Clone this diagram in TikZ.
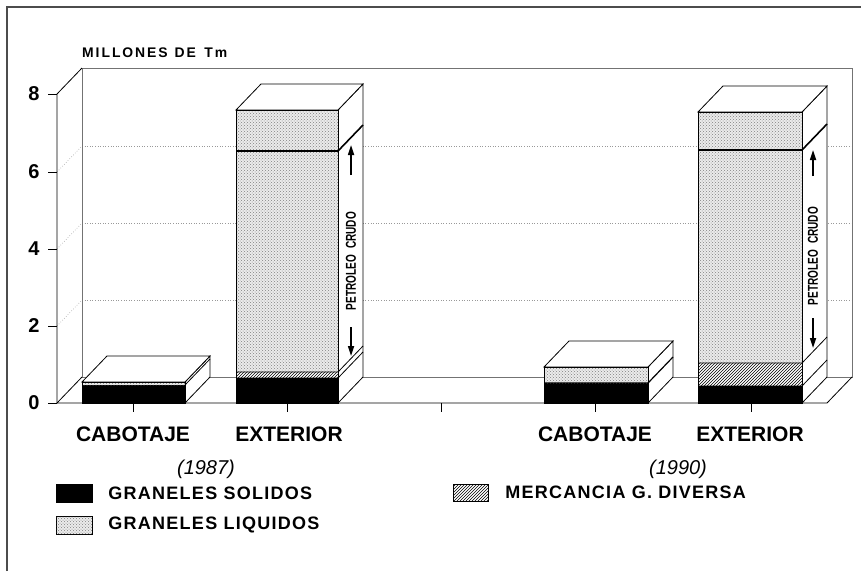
\documentclass[tikz,border=0pt]{standalone}
\usepackage{fontspec}
\setmainfont{Liberation Sans}
\newfontfamily\rotulo[LetterSpace=7]{Liberation Sans Bold}
\newfontfamily\titulo[LetterSpace=14]{Liberation Sans Bold}
\usetikzlibrary{arrows.meta, patterns, positioning}

% caja 3D: x izquierda, x derecha, y techo
\newcommand{\caja}[3]{%
  \draw[face] (#2,403) -- (#2+25,377) -- (#2+25,#3-26) -- (#2,#3) -- cycle;
  \draw[face] (#1,#3) -- (#1+25,#3-26) -- (#2+25,#3-26) -- (#2,#3) -- cycle;
}
\newcommand{\crudotexto}{\resizebox{98pt}{10pt}{\bfseries PETROLEO\hspace{0.6em}CRUDO}}

\begin{document}
\begin{tikzpicture}[x=1pt, y=-1pt,
    wall/.style={black!55, line width=0.6pt},
    grid/.style={black!40, dotted, line width=0.6pt},
    edge/.style={black, line width=0.8pt},
    face/.style={edge, fill=white},
    solido/.style={fill=black},
    liquido/.style={fill=black!8, postaction={pattern=crosshatch dots, pattern color=black!50}},
    diversa/.style={fill=white, postaction={pattern=north east lines}},
    crudo/.style={-{Triangle[length=10pt, width=6pt]}, line width=1.6pt},
    crudotxt/.style={rotate=90, inner sep=0pt},
    ytick/.style={font=\fontsize{20}{20}\selectfont\bfseries, anchor=east, inner sep=0pt},
    categ/.style={font=\fontsize{21}{21}\selectfont\bfseries, anchor=base, inner sep=0pt},
    anio/.style={font=\fontsize{20}{20}\selectfont\itshape, anchor=base, inner sep=0pt},
    leyenda/.style={font=\fontsize{18}{18}\rotulo, inner sep=0pt},
    swatch/.style={draw=black, line width=0.5pt, minimum width=36pt, minimum height=18pt, inner sep=0pt}
  ]
  \useasboundingbox (0,0) rectangle (861,571);

  % marco
  \draw[black!70, line width=1.8pt] (7,571) -- (7,7) -- (861,7);

  % paredes y rejilla
  \foreach \g/\s in {300/326, 223/249, 146/172} {
    \draw[grid] (82,\g) -- (852,\g);
    \draw[grid] (57,\s) -- (82,\g);
  }
  \draw[wall] (82,377) -- (82,68) -- (852,68) -- (852,377) -- cycle;
  \draw[edge] (57,403) -- (57,94) -- (82,68);
  \draw[edge] (57,403) -- (82,377);
  \draw[edge] (57,403) -- (827,403) -- (852,377);

  \foreach \v/\t in {403/0, 326/2, 249/4, 172/6, 94/8}
    \draw[edge] (48,\v) -- (57,\v) node[ytick] (y\t) at (40,\v) {\t};
  \foreach \c in {133, 287, 441, 595, 751}
    \draw[edge] (\c,403) -- (\c,412);

  % cabotaje 1987
  \caja{82}{185}{382}
  \fill[solido] (82,403) rectangle (185,385);
  \fill[liquido] (82,385) rectangle (185,382);
  \draw[edge] (185,385) -- ++(25,-26);
  \draw[edge] (82,403) rectangle (185,382);

  % exterior 1987
  \caja{236}{338}{110}
  \fill[solido] (236,403) rectangle (338,378);
  \fill[diversa] (236,378) rectangle (338,372);
  \fill[liquido] (236,372) rectangle (338,110);
  \draw[edge] (236,378) -- (338,378) -- ++(25,-26) (236,372) -- (338,372) -- ++(25,-26);
  \draw[edge, line width=1.6pt] (236,151) -- (338,151) -- ++(25,-26);
  \draw[edge] (236,403) rectangle (338,110);
  \draw[crudo] (351,175) -- (351,145);
  \draw[crudo] (351,327) -- (351,356);
  \node[crudotxt] (crudo87) at (351,261) {\crudotexto};

  % cabotaje 1990
  \caja{544}{648}{367}
  \fill[solido] (544,403) rectangle (648,383);
  \fill[liquido] (544,383) rectangle (648,367);
  \draw[edge, line width=1.2pt] (544,383) -- (648,383) -- ++(25,-26);
  \draw[edge] (544,403) rectangle (648,367);

  % exterior 1990
  \caja{698}{802}{112}
  \fill[solido] (698,403) rectangle (802,386);
  \fill[diversa] (698,386) rectangle (802,363);
  \fill[liquido] (698,363) rectangle (802,112);
  \draw[edge] (698,386) -- (802,386) -- ++(25,-26) (698,363) -- (802,363) -- ++(25,-26);
  \draw[edge, line width=1.6pt] (698,150) -- (802,150) -- ++(25,-26);
  \draw[edge] (698,403) rectangle (802,112);
  \draw[crudo] (813,176) -- (813,150);
  \draw[crudo] (813,318) -- (813,348);
  \node[crudotxt] (crudo90) at (813,256) {\crudotexto};

  % rotulos
  \node[anchor=base west, inner sep=0pt] (unidad) at (82,57)
    {\resizebox{145pt}{!}{\titulo MILLONES\hspace{0.5em}DE\hspace{0.6em}Tm}};
  \node[categ] (cab87) at (133,441) {CABOTAJE};
  \node[categ] (ext87) at (289,441) {EXTERIOR};
  \node[anio] (a87) at (206,474) {(1987)};
  \node[categ] (cab90) at (595,441) {CABOTAJE};
  \node[categ] (ext90) at (750,441) {EXTERIOR};
  \node[anio] (a90) at (678,474) {(1990)};

  % leyenda
  \node[swatch, solido] (sw1) at (74,493) {};
  \node[leyenda, right=16pt of sw1] (solidos) {GRANELES SOLIDOS};
  \node[swatch, liquido] (sw2) at (74,525) {};
  \node[leyenda, right=16pt of sw2] (liquidos) {GRANELES LIQUIDOS};
  \node[swatch, diversa, minimum width=35pt, minimum height=17pt] (sw3) at (470.5,492.5) {};
  \node[leyenda, right=17pt of sw3] (mercancia) {MERCANCIA G. DIVERSA};
\end{tikzpicture}
\end{document}
